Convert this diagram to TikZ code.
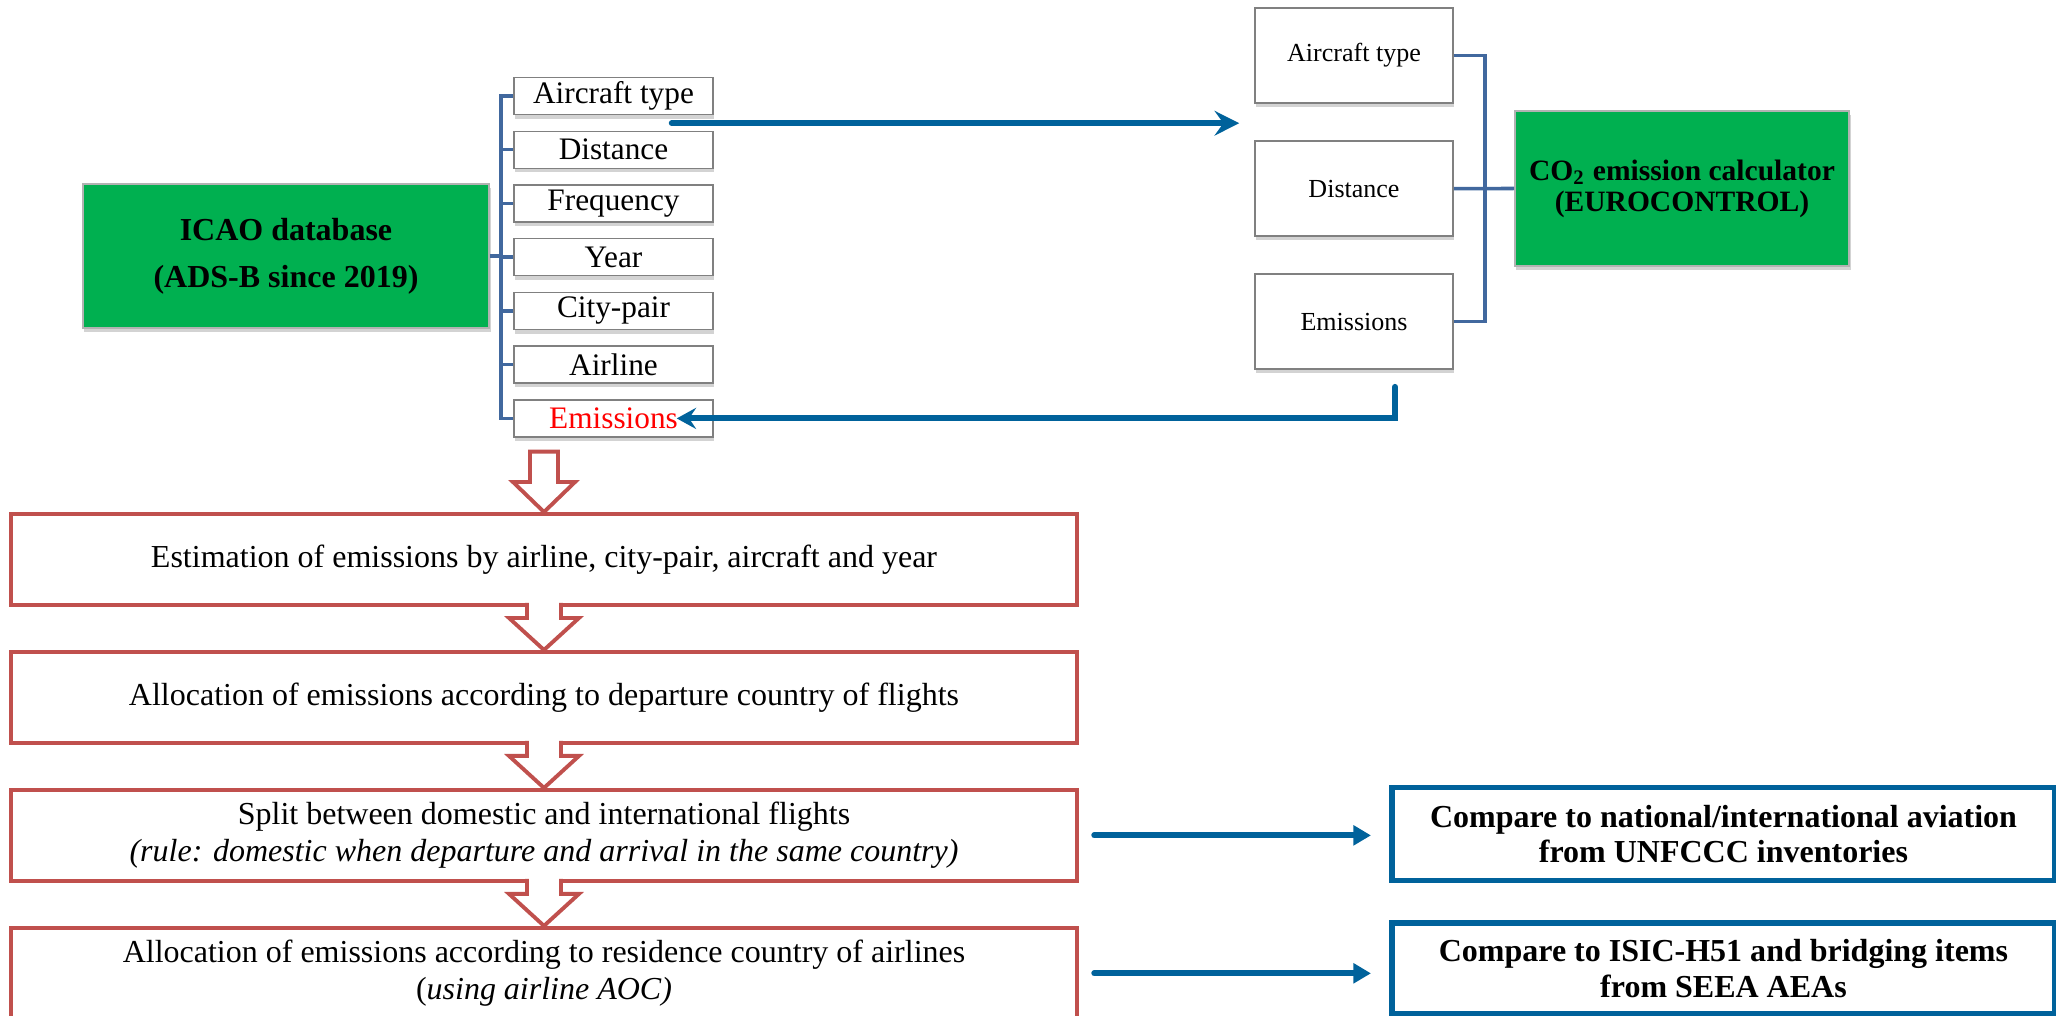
\documentclass[tikz,border=0pt]{standalone}
\usepackage{fontspec}
\setmainfont{Liberation Serif}
\usetikzlibrary{positioning,calc,arrows.meta,shadows}

\definecolor{boxgreen}{RGB}{0,176,80}
\definecolor{stepred}{RGB}{192,80,77}
\definecolor{linkblue}{RGB}{0,98,155}
\definecolor{treeblue}{RGB}{65,104,158}

\begin{document}
\begin{tikzpicture}[
    x=0.01cm, y=-0.01cm,
    >=Stealth,
    shade/.style={drop shadow={shadow xshift=0.4pt, shadow yshift=-1.2pt, opacity=0.35}},
    source/.style={rectangle, draw=gray!60, fill=boxgreen, shade, align=center, inner sep=0pt},
    field/.style={rectangle, draw=gray, line width=0.4pt, fill=white, shade, minimum width=1.99cm, minimum height=0.37cm, inner sep=0pt, font=\fontsize{8.9}{10}\selectfont},
    calcfield/.style={field, minimum width=1.98cm, minimum height=0.95cm, font=\fontsize{7.4}{9}\selectfont},
    stepbox/.style={rectangle, draw=stepred, line width=1.1pt, fill=white, minimum width=10.66cm, minimum height=0.91cm, align=center, inner sep=0pt, font=\fontsize{9.1}{10.5}\selectfont},
    checkbox/.style={rectangle, draw=linkblue, line width=1.6pt, fill=white, minimum width=6.63cm, minimum height=0.93cm, align=center, inner sep=0pt, font=\fontsize{9.1}{10.2}\selectfont\bfseries},
    tree/.style={draw=treeblue, line width=1pt},
    link/.style={draw=linkblue, line width=1.7pt, line cap=round},
    hollow/.style={draw=stepred, line width=1.1pt, fill=white, line join=miter}
  ]
  \useasboundingbox (0,0) rectangle (2056,1016);

  % ICAO data and its fields
  \node[source, minimum width=4.06cm, minimum height=1.44cm, font=\fontsize{9.1}{13.4}\selectfont\bfseries] (icao) at (286,256) {ICAO database\\(ADS-B since 2019)};
  \node[field] (type) at (613.5,96) {Aircraft type};
  \node[field] (dist) [below=0.153cm of type] {Distance};
  \node[field] (freq) [below=0.153cm of dist] {Frequency};
  \node[field] (year) [below=0.153cm of freq] {Year};
  \node[field] (pair) [below=0.153cm of year] {City-pair};
  \node[field] (airline) [below=0.153cm of pair] {Airline};
  \node[field, text=red] (emis) [below=0.153cm of airline] {Emissions};

  % Calculator side
  \node[calcfield] (rtype) at (1354,55.5) {Aircraft type};
  \node[calcfield] (rdist) [below=0.366cm of rtype] {Distance};
  \node[calcfield] (remis) [below=0.366cm of rdist] {Emissions};
  \node[source, minimum width=3.34cm, minimum height=1.55cm, font=\fontsize{8.4}{8.8}\selectfont\bfseries] (co2) at (1682,188.5) {CO\textsubscript{2} emission calculator\\(EUROCONTROL)};

  % Steps
  \node[stepbox] (est) at (544,559.5) {Estimation of emissions by airline, city-pair, aircraft and year};
  \node[stepbox] (dep) [below=0.43cm of est] {Allocation of emissions according to departure country of flights};
  \node[stepbox] (split) [below=0.43cm of dep] {Split between domestic and international flights\\\textit{(rule: domestic when departure and arrival in the same country)}};
  \node[stepbox] (res) [below=0.43cm of split] {Allocation of emissions according to residence country of airlines\\(\textit{using airline AOC)}};

  % Checks
  \node[checkbox] (cmpnat) at (1723.5,834) {Compare to national/international aviation\\from UNFCCC inventories};
  \node[checkbox, minimum height=0.91cm] (cmpseea) at (1723.5,968.5) {Compare to ISIC-H51 and bridging items\\from SEEA AEAs};

  % Brackets
  \coordinate (spine) at ($(type.west)+(-12,0)$);
  \draw[tree] (type.west) -- (spine) |- (emis.west);
  \foreach \n in {dist,freq,year,pair,airline}
    \draw[tree] (\n.west) -- (\n.west -| spine);
  \draw[tree] (icao.east) -- (icao.east -| spine);

  \coordinate (rspine) at ($(rtype.east)+(31,0)$);
  \draw[tree] (rtype.east) -- (rspine) |- (remis.east);
  \draw[tree] (rdist.east) -- (co2.west);

  % Arrows to and from the calculator
  \coordinate (out) at ($(type.south east)+(-42,8)$);
  \draw[link, -{Stealth[length=7pt,width=7pt,inset=2.5pt]}, shorten >=0.15cm] (out) -- (out -| rtype.west);
  \coordinate (back) at ($(remis.south)+(41,17)$);
  \draw[link, -{Stealth[length=5.5pt,width=6pt,inset=2pt]}] (back) |- ($(emis.east)+(-37,0)$);

  % Block arrows
  \draw[hollow] ($(emis.south -| est.north)+(-14,14)$) -- ($(est.north)+(-14,-30)$) -- ($(est.north)+(-31,-30)$) -- (est.north) -- ($(est.north)+(31,-30)$) -- ($(est.north)+(14,-30)$) -- ($(emis.south -| est.north)+(14,14)$) -- cycle;
  \foreach \a/\b in {est/dep, dep/split, split/res}
    \draw[hollow] ($(\a.south -| \b.north)+(-17,-4)$) -- ($(\b.north)+(-17,-32)$) -- ($(\b.north)+(-35,-32)$) -- (\b.north) -- ($(\b.north)+(35,-32)$) -- ($(\b.north)+(17,-32)$) -- ($(\a.south -| \b.north)+(17,-4)$);

  % Comparisons
  \draw[link, -{Triangle[length=5pt,width=5.5pt]}, shorten <=0.15cm, shorten >=0.18cm] (split.east) -- (split.east -| cmpnat.west);
  \draw[link, -{Triangle[length=5pt,width=5.5pt]}, shorten <=0.15cm, shorten >=0.18cm] (res.east) -- (res.east -| cmpseea.west);
\end{tikzpicture}
\end{document}
